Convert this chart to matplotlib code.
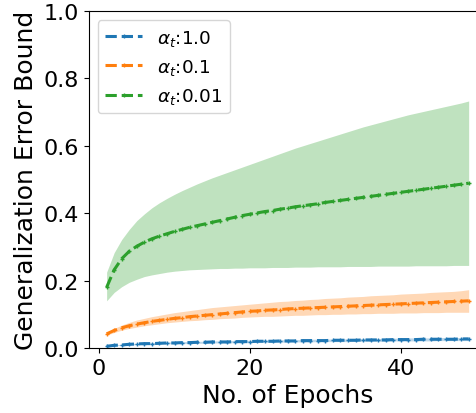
import matplotlib
matplotlib.use("Agg")
import matplotlib.pyplot as plt

epochs = list(range(1, 50))

labels = [r"$\alpha_t$:1.0", r"$\alpha_t$:0.1", r"$\alpha_t$:0.01"]
colors = ["#1f77b4", "#ff7f0e", "#2ca02c"]

blue_mean = [0.005, 0.008, 0.009, 0.011, 0.012, 0.013, 0.013, 0.014, 0.015, 0.015,
             0.016, 0.016, 0.017, 0.017, 0.018, 0.018, 0.018, 0.019, 0.019, 0.019,
             0.020, 0.020, 0.020, 0.021, 0.021, 0.021, 0.022, 0.022, 0.022, 0.022,
             0.023, 0.023, 0.023, 0.023, 0.024, 0.024, 0.024, 0.024, 0.025, 0.025,
             0.025, 0.025, 0.026, 0.026, 0.026, 0.026, 0.026, 0.027, 0.027]
blue_upper = [0.006, 0.009, 0.011, 0.013, 0.014, 0.015, 0.016, 0.017, 0.018, 0.018,
              0.019, 0.019, 0.020, 0.020, 0.021, 0.021, 0.022, 0.022, 0.022, 0.023,
              0.023, 0.024, 0.024, 0.024, 0.025, 0.025, 0.025, 0.026, 0.026, 0.026,
              0.027, 0.027, 0.027, 0.028, 0.028, 0.028, 0.028, 0.029, 0.029, 0.029,
              0.030, 0.030, 0.030, 0.030, 0.031, 0.031, 0.031, 0.031, 0.032]
blue_lower = [0.004, 0.007, 0.008, 0.009, 0.010, 0.011, 0.011, 0.012, 0.012, 0.013,
              0.013, 0.013, 0.014, 0.014, 0.015, 0.015, 0.015, 0.016, 0.016, 0.016,
              0.017, 0.017, 0.017, 0.017, 0.018, 0.018, 0.018, 0.018, 0.019, 0.019,
              0.019, 0.019, 0.019, 0.020, 0.020, 0.020, 0.020, 0.020, 0.021, 0.021,
              0.021, 0.021, 0.021, 0.021, 0.022, 0.022, 0.022, 0.022, 0.022]

orange_mean = [0.042, 0.052, 0.060, 0.066, 0.071, 0.075, 0.079, 0.082, 0.085, 0.088,
               0.090, 0.093, 0.095, 0.097, 0.099, 0.101, 0.103, 0.105, 0.107, 0.109,
               0.110, 0.112, 0.113, 0.114, 0.116, 0.117, 0.118, 0.119, 0.120, 0.121,
               0.122, 0.123, 0.124, 0.125, 0.126, 0.127, 0.128, 0.129, 0.130, 0.131,
               0.132, 0.133, 0.134, 0.135, 0.136, 0.137, 0.138, 0.139, 0.140]
orange_upper = [0.045, 0.058, 0.068, 0.076, 0.083, 0.088, 0.093, 0.097, 0.101, 0.105,
                0.108, 0.111, 0.114, 0.117, 0.120, 0.122, 0.124, 0.126, 0.128, 0.130,
                0.132, 0.134, 0.136, 0.138, 0.139, 0.141, 0.142, 0.144, 0.145, 0.147,
                0.148, 0.149, 0.151, 0.152, 0.153, 0.155, 0.156, 0.157, 0.158, 0.160,
                0.161, 0.162, 0.163, 0.165, 0.166, 0.167, 0.168, 0.170, 0.173]
orange_lower = [0.038, 0.046, 0.053, 0.058, 0.062, 0.066, 0.069, 0.072, 0.075, 0.077,
                0.079, 0.081, 0.082, 0.084, 0.085, 0.087, 0.088, 0.089, 0.091, 0.092,
                0.093, 0.094, 0.094, 0.095, 0.096, 0.097, 0.097, 0.098, 0.099, 0.099,
                0.100, 0.100, 0.101, 0.101, 0.102, 0.102, 0.103, 0.103, 0.103, 0.104,
                0.104, 0.104, 0.105, 0.105, 0.105, 0.106, 0.106, 0.106, 0.106]

green_mean = [0.180, 0.232, 0.265, 0.287, 0.302, 0.314, 0.324, 0.332, 0.339, 0.346,
              0.352, 0.358, 0.363, 0.368, 0.373, 0.378, 0.383, 0.388, 0.393, 0.397,
              0.401, 0.405, 0.408, 0.412, 0.415, 0.419, 0.422, 0.425, 0.428, 0.432,
              0.435, 0.438, 0.441, 0.444, 0.447, 0.450, 0.453, 0.456, 0.459, 0.462,
              0.465, 0.468, 0.471, 0.474, 0.477, 0.480, 0.483, 0.486, 0.489]
green_upper = [0.225, 0.283, 0.322, 0.352, 0.378, 0.398, 0.416, 0.431, 0.444, 0.456,
               0.467, 0.477, 0.487, 0.496, 0.505, 0.513, 0.521, 0.529, 0.537, 0.545,
               0.553, 0.561, 0.569, 0.577, 0.585, 0.593, 0.600, 0.607, 0.614, 0.621,
               0.628, 0.635, 0.642, 0.649, 0.656, 0.662, 0.668, 0.674, 0.680, 0.686,
               0.692, 0.697, 0.702, 0.707, 0.712, 0.717, 0.722, 0.727, 0.733]
green_lower = [0.140, 0.165, 0.182, 0.195, 0.204, 0.212, 0.217, 0.221, 0.225, 0.228,
               0.230, 0.232, 0.233, 0.234, 0.235, 0.236, 0.236, 0.237, 0.237, 0.238,
               0.238, 0.238, 0.239, 0.239, 0.239, 0.240, 0.240, 0.240, 0.241, 0.241,
               0.241, 0.241, 0.242, 0.242, 0.242, 0.242, 0.243, 0.243, 0.243, 0.243,
               0.243, 0.244, 0.244, 0.244, 0.244, 0.244, 0.245, 0.245, 0.245]

means = [blue_mean, orange_mean, green_mean]
uppers = [blue_upper, orange_upper, green_upper]
lowers = [blue_lower, orange_lower, green_lower]

fig = plt.figure(figsize=(4.76, 4.14), dpi=100)
ax = fig.add_axes([0.186, 0.157, 0.8366, 0.814])

for m, u, l, c, lab in zip(means, uppers, lowers, colors, labels):
    ax.plot(epochs, m, linestyle="--", color=c, linewidth=2.2, marker="+",
            markersize=3, markeredgewidth=1.0, label=lab)
    ax.fill_between(epochs, l, u, color=c, alpha=0.3, linewidth=0)

ax.set_ylim(0, 1.0)
ax.set_xticks([0, 20, 40])
ax.set_yticks([0.0, 0.2, 0.4, 0.6, 0.8, 1.0])
ax.tick_params(labelsize=16)
ax.set_xlabel("No. of Epochs", fontsize=18)
ax.set_ylabel("Generalization Error Bound", fontsize=18)
ax.legend(loc="upper left", fontsize=13.3)

fig.savefig("out.png", dpi=100)
